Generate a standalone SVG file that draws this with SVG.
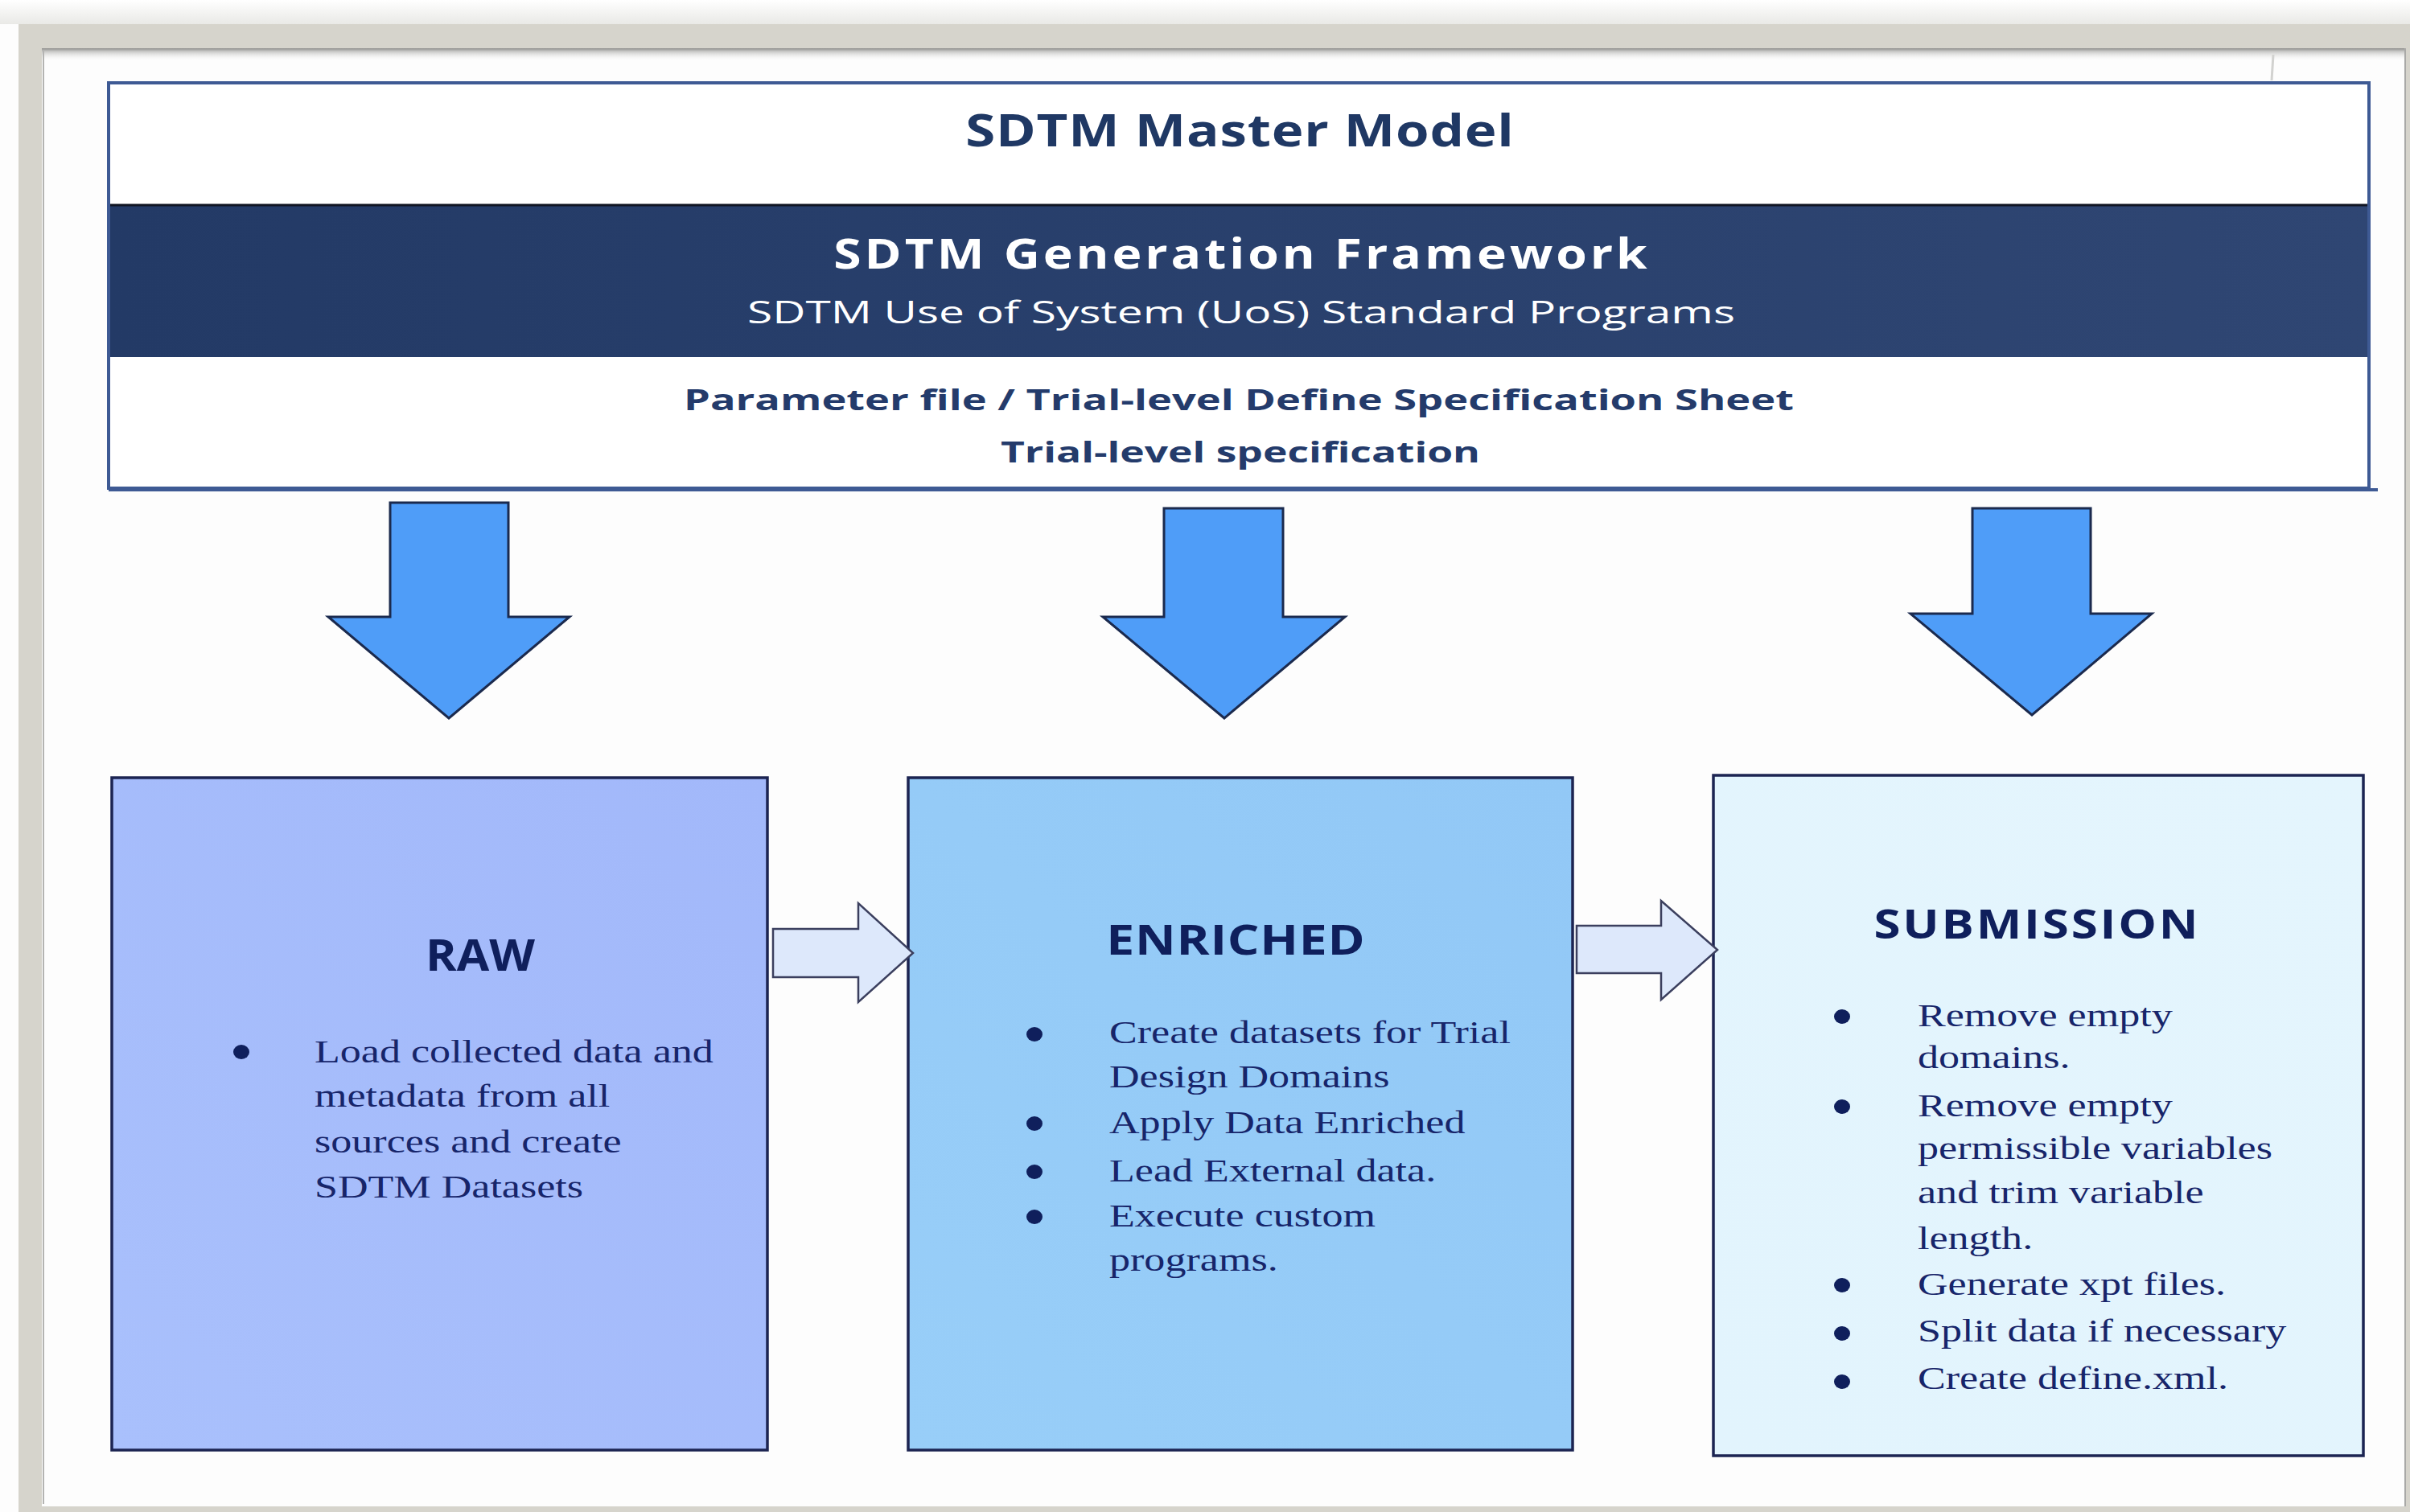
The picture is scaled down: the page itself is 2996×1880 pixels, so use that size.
<svg xmlns="http://www.w3.org/2000/svg" width="2996" height="1880" viewBox="0 0 2996 1880">
  <defs>
    <linearGradient id="topShade" x1="0" y1="0" x2="0" y2="1">
      <stop offset="0" stop-color="#ffffff"/>
      <stop offset="1" stop-color="#e9e9e6"/>
    </linearGradient>
    <linearGradient id="innerShade" x1="0" y1="0" x2="0" y2="1">
      <stop offset="0" stop-color="#8e8e8c"/>
      <stop offset="0.25" stop-color="#c9c9c7"/>
      <stop offset="1" stop-color="#fdfdfd" stop-opacity="0"/>
    </linearGradient>
    <linearGradient id="bandFill" x1="0" y1="0" x2="1" y2="0">
      <stop offset="0" stop-color="#233a66"/>
      <stop offset="1" stop-color="#2f4673"/>
    </linearGradient>
    <linearGradient id="rawFill" x1="0" y1="1" x2="1" y2="0">
      <stop offset="0" stop-color="#a9c0fc"/>
      <stop offset="1" stop-color="#a2b8fa"/>
    </linearGradient>
    <linearGradient id="enrFill" x1="0" y1="1" x2="1" y2="0">
      <stop offset="0" stop-color="#98cef8"/>
      <stop offset="1" stop-color="#92c8f6"/>
    </linearGradient>
    <linearGradient id="subFill" x1="0" y1="1" x2="1" y2="0">
      <stop offset="0" stop-color="#e2f4fd"/>
      <stop offset="1" stop-color="#e4f5fd"/>
    </linearGradient>
  </defs>
  <style>
    .hdr { font-family: "Open Sans", "Noto Sans", "DejaVu Sans", sans-serif; text-anchor: middle; }
    .hdr-dark { fill: #1f3864; }
    .hdr-light { fill: #ffffff; }
    .spec { fill: #243b6b; font-weight: 700; font-size: 35px; }
    .title { font-family: "Open Sans", "Noto Sans", sans-serif; font-weight: 700; fill: #0f1f5c; text-anchor: middle; }
    .body { font-family: "Liberation Serif", "Times New Roman", serif; font-size: 41px; fill: #17256a; }
    .dot { fill: #0f1f5c; }
    .stage { stroke: #1c2452; stroke-width: 3.5; }
    .down { fill: #4f9df8; stroke: #1b2a4e; stroke-width: 3; stroke-linejoin: miter; }
    .flow { fill: #dde8fb; stroke: #3b3f5e; stroke-width: 2.5; stroke-linejoin: miter; }
  </style>

  <!-- picture frame around the figure -->
  <g id="frame">
    <rect x="0" y="0" width="2996" height="1880" fill="#fdfdfd"/>
    <rect x="0" y="0" width="2996" height="30" fill="url(#topShade)"/>
    <rect x="23" y="30" width="2973" height="1850" fill="#d6d4cc"/>
    <rect x="52" y="60" width="2938" height="1813" fill="#fdfdfd"/>
    <rect x="52" y="60" width="2938" height="16" fill="url(#innerShade)"/>
    <line x1="54" y1="62" x2="54" y2="1870" stroke="#b4b4b2" stroke-width="2"/>
    <line x1="2990" y1="60" x2="2990" y2="1873" stroke="#a9a9a7" stroke-width="2"/>
    <line x1="2826" y1="68" x2="2824" y2="100" stroke="#d2d2d0" stroke-width="3"/>
  </g>

  <!-- header: master model / framework / specification -->
  <g id="master-model">
    <rect x="135" y="103" width="2810" height="504" fill="#ffffff" stroke="#3e5a94" stroke-width="4"/>
    <line x1="135" y1="609" x2="2956" y2="609" stroke="#3e5a94" stroke-width="4"/>
    <rect x="137" y="254" width="2806" height="190" fill="url(#bandFill)"/>
    <line x1="137" y1="255" x2="2943" y2="255" stroke="#101522" stroke-width="3"/>
    <g transform="translate(1541,0) scale(1.2,1)">
      <text class="hdr hdr-dark" x="0" y="182" font-size="56" font-weight="700" textLength="568" lengthAdjust="spacing">SDTM Master Model</text>
    </g>
    <g transform="translate(1542,0) scale(1.2,1)">
      <text class="hdr hdr-light" x="0" y="334" font-size="52" font-weight="700" textLength="843" lengthAdjust="spacing">SDTM Generation Framework</text>
    </g>
    <text class="hdr hdr-light" x="1543" y="402" font-size="39" font-weight="400" textLength="1228" lengthAdjust="spacingAndGlyphs">SDTM Use of System (UoS) Standard Programs</text>
    <text class="hdr spec" x="1540" y="510" textLength="1380" lengthAdjust="spacingAndGlyphs">Parameter file / Trial-level Define Specification Sheet</text>
    <text class="hdr spec" x="1542" y="575" textLength="596" lengthAdjust="spacingAndGlyphs">Trial-level specification</text>
  </g>

  <!-- stage: RAW -->
  <g id="raw">
    <rect class="stage" x="139" y="967" width="815" height="836" fill="url(#rawFill)"/>
    <text class="title" x="597" y="1207" font-size="53" font-family="Liberation Sans, Arial, sans-serif" textLength="136" lengthAdjust="spacingAndGlyphs">RAW</text>
    <ellipse class="dot" cx="300" cy="1308" rx="10" ry="9"/>
    <g transform="translate(391,0) scale(1.27,1)">
      <text class="body" x="0" y="1321">Load collected data and</text>
      <text class="body" x="0" y="1376">metadata from all</text>
      <text class="body" x="0" y="1433">sources and create</text>
      <text class="body" x="0" y="1489">SDTM Datasets</text>
    </g>
  </g>

  <!-- stage: ENRICHED -->
  <g id="enriched">
    <rect class="stage" x="1129" y="967" width="826" height="836" fill="url(#enrFill)"/>
    <g transform="translate(1536,0) scale(1.2,1)">
      <text class="title" x="0" y="1187" font-size="52" textLength="268" lengthAdjust="spacing">ENRICHED</text>
    </g>
    <ellipse class="dot" cx="1286" cy="1286" rx="10" ry="9"/>
    <ellipse class="dot" cx="1286" cy="1397" rx="10" ry="9"/>
    <ellipse class="dot" cx="1286" cy="1457" rx="10" ry="9"/>
    <ellipse class="dot" cx="1286" cy="1513" rx="10" ry="9"/>
    <g transform="translate(1379,0) scale(1.27,1)">
      <text class="body" x="0" y="1297">Create datasets for Trial</text>
      <text class="body" x="0" y="1352">Design Domains</text>
      <text class="body" x="0" y="1409">Apply Data Enriched</text>
      <text class="body" x="0" y="1469">Lead External data.</text>
      <text class="body" x="0" y="1525">Execute custom</text>
      <text class="body" x="0" y="1580">programs.</text>
    </g>
  </g>

  <!-- stage: SUBMISSION -->
  <g id="submission">
    <rect class="stage" x="2130" y="964" width="808" height="846" fill="url(#subFill)"/>
    <g transform="translate(2531,0) scale(1.2,1)">
      <text class="title" x="0" y="1167" font-size="50" textLength="336" lengthAdjust="spacing">SUBMISSION</text>
    </g>
    <ellipse class="dot" cx="2290" cy="1264" rx="10" ry="9"/>
    <ellipse class="dot" cx="2290" cy="1376" rx="10" ry="9"/>
    <ellipse class="dot" cx="2290" cy="1598" rx="10" ry="9"/>
    <ellipse class="dot" cx="2290" cy="1658" rx="10" ry="9"/>
    <ellipse class="dot" cx="2290" cy="1718" rx="10" ry="9"/>
    <g transform="translate(2384,0) scale(1.27,1)">
      <text class="body" x="0" y="1276">Remove empty</text>
      <text class="body" x="0" y="1328">domains.</text>
      <text class="body" x="0" y="1388">Remove empty</text>
      <text class="body" x="0" y="1441">permissible variables</text>
      <text class="body" x="0" y="1496">and trim variable</text>
      <text class="body" x="0" y="1553">length.</text>
      <text class="body" x="0" y="1610">Generate xpt files.</text>
      <text class="body" x="0" y="1668">Split data if necessary</text>
      <text class="body" x="0" y="1727">Create define.xml.</text>
    </g>
  </g>

  <!-- block arrows: header feeds each stage, stages flow left to right -->
  <g id="connectors">
    <polygon class="down" points="485,625 632,625 632,767 708,767 558,893 408,767 485,767"/>
    <polygon class="down" points="1447,632 1595,632 1595,767 1672,767 1522,893 1371,767 1447,767"/>
    <polygon class="down" points="2452,632 2599,632 2599,763 2675,763 2526,889 2375,763 2452,763"/>
    <polygon class="flow" points="961,1155 1067,1155 1067,1123 1135,1185 1067,1246 1067,1215 961,1215"/>
    <polygon class="flow" points="1960,1151 2065,1151 2065,1120 2135,1181 2065,1243 2065,1210 1960,1210"/>
  </g>
</svg>
